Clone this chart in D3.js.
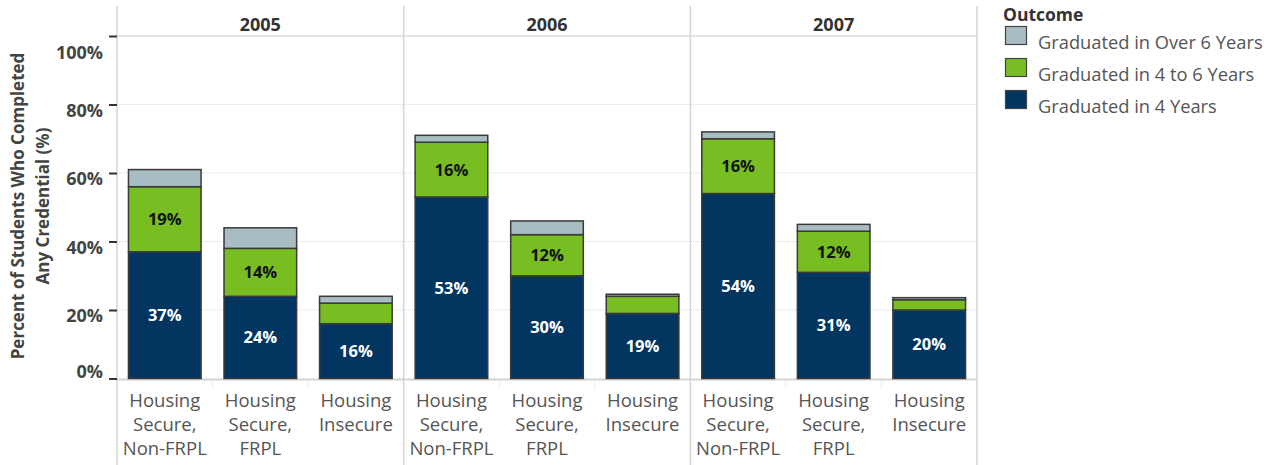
<!DOCTYPE html>
<html>
<head>
<meta charset="utf-8">
<script src="https://cdn.jsdelivr.net/npm/d3@7"></script>
<style>
  body { margin: 0; background: #fff; }
  svg { display: block; font-family: "Open Sans", sans-serif; }
</style>
</head>
<body>
<svg id="chart" width="1277" height="465"></svg>
<script>
// --------------------------------
// data
// --------------------------------
var years = ["2005", "2006", "2007"];
var groups = ["Housing Secure, Non-FRPL", "Housing Secure, FRPL", "Housing Insecure"];
var groupLines = [["Housing", "Secure,", "Non-FRPL"], ["Housing", "Secure,", "FRPL"], ["Housing", "Insecure"]];

// one value per year x group, in order 2005 (3 groups), 2006, 2007
var grad4 =     [37, 24, 16,   53, 30, 19,   54, 31, 20];
var grad4to6 =  [19, 14, 6,    16, 12, 5,    16, 12, 3];
var gradOver6 = [5,  6,  2,    2,  4,  0.6,  2,  2,  0.6];

var outcomes = ["Graduated in Over 6 Years", "Graduated in 4 to 6 Years", "Graduated in 4 Years"];
var yTicks = [0, 20, 40, 60, 80, 100];

var colors = {
  "Graduated in 4 Years": "#023661",
  "Graduated in 4 to 6 Years": "#78bd22",
  "Graduated in Over 6 Years": "#a8bcc3"
};

// --------------------------------
// layout
// --------------------------------
var svg = d3.select("#chart");
var plotLeft = 117, plotRight = 977, plotTop = 36, plotBottom = 378.5, headTop = 6;

var x0 = d3.scaleBand().domain(years).range([plotLeft, plotRight]);
var x1 = d3.scaleBand().domain(groups).range([0, x0.bandwidth()]).paddingInner(0.24).paddingOuter(0.12);
var y = d3.scaleLinear().domain([0, 100]).range([plotBottom, plotTop]);

// gridlines
svg.append("g").selectAll("line")
  .data(yTicks.filter(function(d){ return d > 0 && d < 100; }))
  .join("line")
  .attr("x1", plotLeft).attr("x2", plotRight)
  .attr("y1", function(d){ return y(d); }).attr("y2", function(d){ return y(d); })
  .attr("stroke", "#ececec").attr("stroke-width", 1.2);

// header line and bottom axis line
svg.append("line").attr("x1", plotLeft).attr("x2", plotRight).attr("y1", y(100)).attr("y2", y(100))
  .attr("stroke", "#dcdcdc").attr("stroke-width", 1.5);
svg.append("line").attr("x1", plotLeft).attr("x2", plotRight).attr("y1", plotBottom + 1).attr("y2", plotBottom + 1)
  .attr("stroke", "#d4d4d4").attr("stroke-width", 2);

// panel dividers
svg.append("g").selectAll("line")
  .data(years.map(function(d){ return x0(d); }).concat([plotRight]))
  .join("line")
  .attr("x1", function(d){ return d; }).attr("x2", function(d){ return d; })
  .attr("y1", headTop).attr("y2", 465)
  .attr("stroke", "#d4d4d4").attr("stroke-width", 1.5);

// faint separators between categories in label area
years.forEach(function(yr){
  groups.slice(1).forEach(function(g){
    var xx = x0(yr) + x1(g) - x1.step() * x1.paddingInner() / 2;
    svg.append("line").attr("x1", xx).attr("x2", xx).attr("y1", plotBottom + 2).attr("y2", plotBottom + 10)
      .attr("stroke", "#ececec").attr("stroke-width", 1);
  });
});

// year headers
svg.append("g").selectAll("text")
  .data(years).join("text")
  .attr("x", function(d){ return x0(d) + x0.bandwidth() / 2; })
  .attr("y", 31)
  .attr("text-anchor", "middle")
  .attr("font-size", 18).attr("font-weight", "bold").attr("fill", "#333")
  .text(function(d){ return d; });

// y axis
var yAxis = d3.axisLeft(y).tickValues(yTicks).tickSize(8).tickPadding(6)
  .tickFormat(function(d){ return d + "%"; });
var ga = svg.append("g").attr("transform", "translate(" + plotLeft + ",0)").call(yAxis);
ga.select(".domain").remove();
ga.selectAll(".tick line").attr("stroke", "#333").attr("stroke-width", 2);
// labels sit a little below their ticks, the end ones kept inside the range
ga.selectAll(".tick text")
  .attr("font-family", "Open Sans, sans-serif")
  .attr("font-size", 18).attr("font-weight", "bold").attr("fill", "#444")
  .attr("y", function(d){ return d === 100 ? 17 : (d === 0 ? -7 : 6); });

// y axis title
svg.append("text")
  .attr("transform", "translate(24,206) rotate(-90)")
  .attr("text-anchor", "middle")
  .attr("font-size", 17).attr("font-weight", "bold").attr("fill", "#444")
  .selectAll("tspan")
  .data(["Percent of Students Who Completed", "Any Credential (%)"])
  .join("tspan")
  .attr("x", 0).attr("dy", function(d, i){ return i ? 25 : 0; })
  .text(function(d){ return d; });

// --------------------------------
// stacked bars
// --------------------------------
var rows = [];
years.forEach(function(yr, i){
  groups.forEach(function(g, j){
    var k = i * groups.length + j;
    rows.push({year: yr, group: g,
      "Graduated in 4 Years": grad4[k],
      "Graduated in 4 to 6 Years": grad4to6[k],
      "Graduated in Over 6 Years": gradOver6[k]});
  });
});

var stack = d3.stack().keys(outcomes.slice().reverse());
var series = stack(rows);

var gBars = svg.append("g");
series.forEach(function(s){
  gBars.append("g").selectAll("rect")
    .data(s).join("rect")
    .attr("x", function(d){ return x0(d.data.year) + x1(d.data.group); })
    .attr("width", x1.bandwidth())
    .attr("y", function(d){ return y(d[1]); })
    .attr("height", function(d){ return y(d[0]) - y(d[1]); })
    .attr("fill", colors[s.key])
    .attr("stroke", "#3a3a3a").attr("stroke-width", 1.5);
});

// value labels for bigger segments
series.forEach(function(s){
  gBars.append("g").selectAll("text")
    .data(s.filter(function(d){ return d[1] - d[0] >= 10; }))
    .join("text")
    .attr("x", function(d){ return x0(d.data.year) + x1(d.data.group) + x1.bandwidth() / 2; })
    .attr("y", function(d){ return (y(d[0]) + y(d[1])) / 2; })
    .attr("dy", "0.36em")
    .attr("text-anchor", "middle")
    .attr("font-size", 16.5).attr("font-weight", "bold")
    .attr("fill", s.key === "Graduated in 4 Years" ? "#fff" : "#111")
    .text(function(d){ return Math.round(d[1] - d[0]) + "%"; });
});

// category labels
years.forEach(function(yr){
  groups.forEach(function(g, j){
    svg.append("text")
      .attr("x", x0(yr) + x1(g) + x1.bandwidth() / 2)
      .attr("y", 407)
      .attr("text-anchor", "middle")
      .attr("font-size", 18.5).attr("fill", "#555")
      .selectAll("tspan")
      .data(groupLines[j]).join("tspan")
      .attr("x", x0(yr) + x1(g) + x1.bandwidth() / 2)
      .attr("dy", function(d, i){ return i ? 24 : 0; })
      .text(function(d){ return d; });
  });
});

// --------------------------------
// legend
// --------------------------------
var lg = svg.append("g").attr("transform", "translate(1003,0)");
lg.append("text").attr("x", 0).attr("y", 21)
  .attr("font-size", 17.5).attr("font-weight", "bold").attr("fill", "#333")
  .text("Outcome");
outcomes.forEach(function(o, i){
  var yy = 26.5 + i * 32;
  lg.append("rect").attr("x", 2.5).attr("y", yy).attr("width", 21).attr("height", 18)
    .attr("fill", colors[o]).attr("stroke", "#444").attr("stroke-width", 1.2);
  lg.append("text").attr("x", 35).attr("y", yy + 22)
    .attr("font-size", 18.3).attr("fill", "#555").text(o);
});
</script>
</body>
</html>
